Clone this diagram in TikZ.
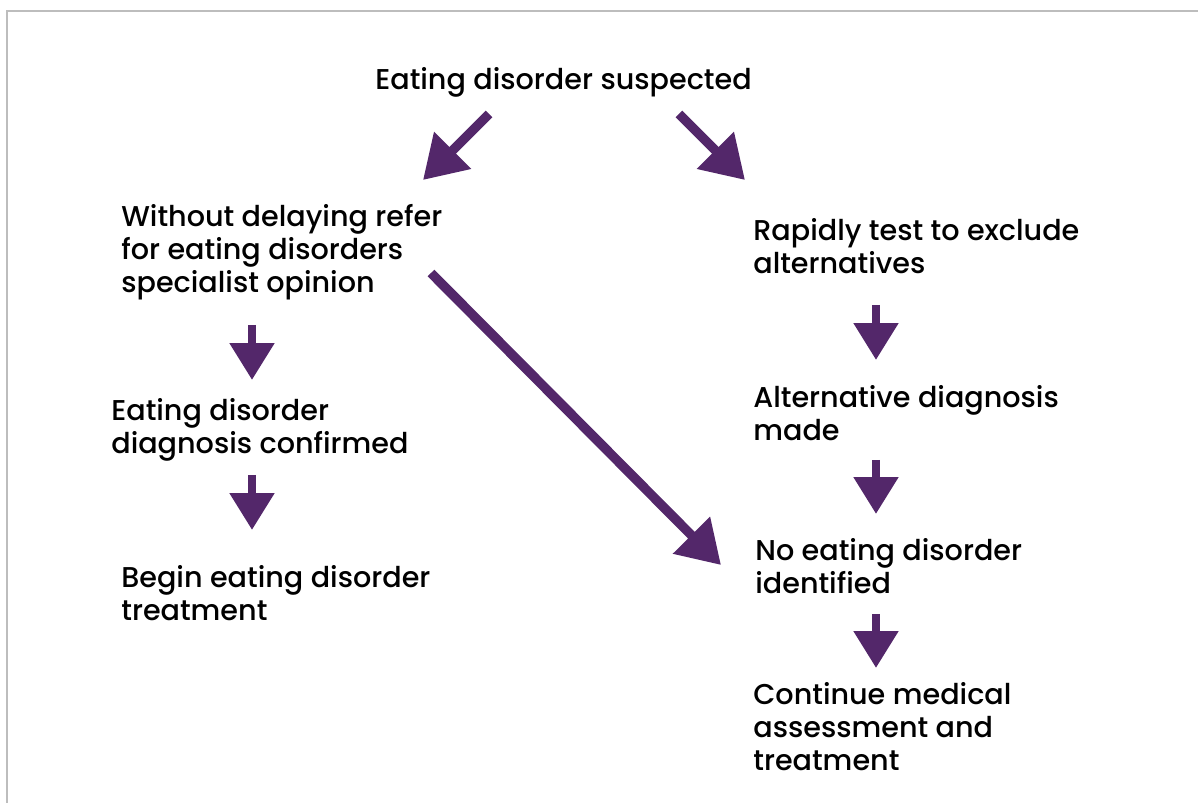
\documentclass[tikz,border=0pt]{standalone}
\usepackage{fontspec}
\setmainfont{Poppins}[UprightFont=* Medium]
\usetikzlibrary{arrows.meta}
\definecolor{plum}{HTML}{53276A}
\definecolor{frame}{HTML}{BDBDBD}

\begin{document}
\begin{tikzpicture}[x=0.02cm, y=-0.02cm]
        \tikzstyle{step text} = [anchor=base west, inner sep=0pt, align=left, font=\fontsize{16.3}{18.8}\selectfont]
        \tikzstyle{down} = [-{Triangle[length=0.74cm, width=0.86cm]}, line width=0.17cm, plum]
        \tikzstyle{slant} = [-{Triangle[length=0.84cm, width=1cm]}, line width=0.19cm, plum]

\useasboundingbox (0,0) rectangle (1198,803);
        \draw[frame, line width=0.04cm] (7,803) -- (7,11) -- (1198,11);

\node[step text] (suspected) at (375,90) {Eating disorder suspected};

\node[step text] (refer) at (121,293) {Without delaying refer\\for eating disorders\\specialist opinion};
        \node[step text] (confirmed) at (111,454) {Eating disorder\\diagnosis confirmed};
        \node[step text] (begin) at (121,621) {Begin eating disorder\\treatment};

\node[step text] (rapid) at (753,274) {Rapidly test to exclude\\alternatives};
        \node[step text] (alternative) at (753,441) {Alternative diagnosis\\made};
        \node[step text] (noed) at (755,594) {No eating disorder\\identified};
        \node[step text] (continue) at (753,771) {Continue medical\\assessment and\\treatment};

\coordinate (splitL) at (489,114);
        \coordinate (splitR) at (679,114);
        \coordinate (referTip) at (423,180);
        \coordinate (rapidTip) at (745,180);
        \coordinate (crossFrom) at (431,273);
        \coordinate (crossTip) at (721,565);

\draw[slant] (splitL) -- (referTip);
        \draw[slant] (splitR) -- (rapidTip);
        \draw[slant] (crossFrom) -- (crossTip);

\draw[down] (252,325) coordinate (d1) -- (252,380) coordinate (d1tip);
        \draw[down] (252,475) coordinate (d2) -- (252,530) coordinate (d2tip);
        \draw[down] (876,305) coordinate (d3) -- (876,360) coordinate (d3tip);
        \draw[down] (876,460) coordinate (d4) -- (876,514) coordinate (d4tip);
        \draw[down] (876,614) coordinate (d5) -- (876,668) coordinate (d5tip);

    \end{tikzpicture}
\end{document}
